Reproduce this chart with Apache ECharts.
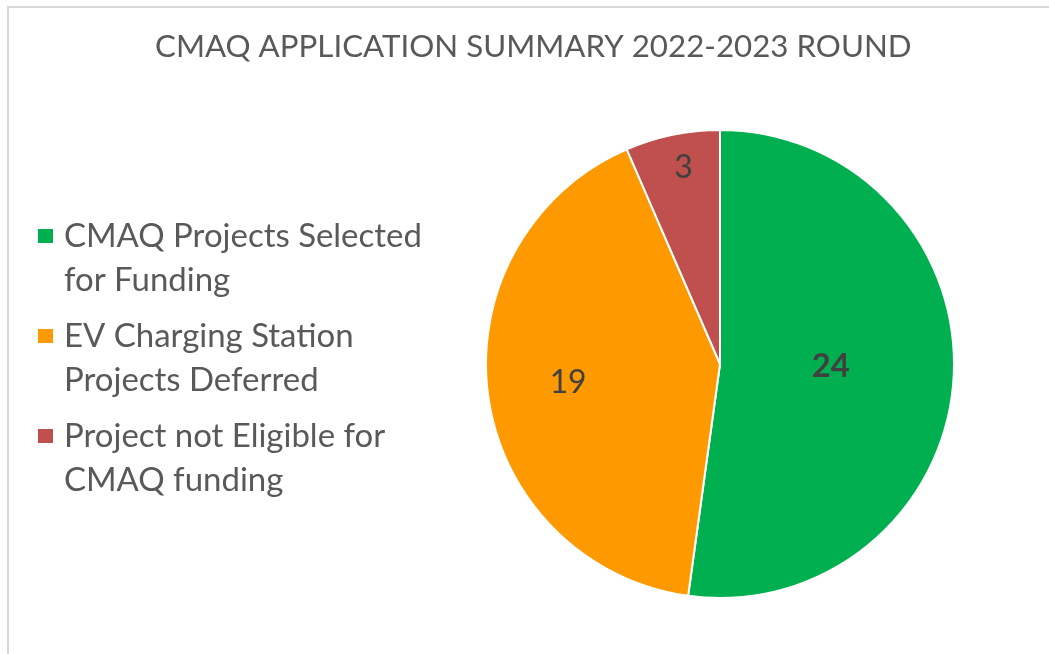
<!DOCTYPE html>
<html>
<head>
<meta charset="utf-8">
<script src="https://cdn.jsdelivr.net/npm/echarts@6/dist/echarts.min.js"></script>
<style>
  html, body { margin: 0; padding: 0; background: #fff; }
  #chart { width: 1049px; height: 654px; }
</style>
</head>
<body>
<div id="chart"></div>
<script>
// ---- data ----
const chartTitle = 'CMAQ APPLICATION SUMMARY 2022-2023 ROUND';
const categories = [
  'CMAQ Projects Selected for Funding',
  'EV Charging Station Projects Deferred',
  'Project not Eligible for CMAQ funding'
];
const values = [24, 19, 3];
const colors = ['#00B050', '#FF9900', '#C0504D'];

// ---- styling helpers ----
const FONT = 'Lato';
const mctx = document.createElement('canvas').getContext('2d');
function fitSize(text, weight, target) {
  mctx.font = weight + ' 100px ' + FONT;
  return 100 * target / mctx.measureText(text).width;
}
const titleSize = fitSize(chartTitle, 'normal', 757);
const legendSize = fitSize('CMAQ Projects Selected', 'normal', 358);
const labelSize = fitSize('19', 'normal', 37);
const boldLabelSize = fitSize('24', 'bold', 38);
// label nudges from the default inside position (style only)
const labelShift = [[-9, -6], [-33, 2], [-12, -79]];

const chart = echarts.init(document.getElementById('chart'), null, { renderer: 'canvas' });
chart.setOption({
  animation: false,
  backgroundColor: '#ffffff',
  title: {
    text: chartTitle,
    left: 155,
    top: 31,
    padding: 0,
    textStyle: { fontFamily: FONT, fontSize: titleSize, fontWeight: 'normal', color: '#595959' }
  },
  graphic: [{
    type: 'rect',
    shape: { x: 8, y: 7, width: 2000, height: 2000 },
    style: { fill: 'none', stroke: '#d9d9d9', lineWidth: 2 },
    silent: true
  }],
  legend: {
    orient: 'vertical',
    left: 36,
    top: 170,
    padding: 0,
    itemGap: -32,
    itemWidth: 17,
    itemHeight: 16,
    icon: 'rect',
    data: categories,
    // leading empty line keeps the marker level with the first text line
    formatter: function (name) { return '\n' + name; },
    textStyle: {
      fontFamily: FONT,
      fontSize: legendSize,
      color: '#595959',
      lineHeight: 44,
      width: 380,
      overflow: 'break',
      padding: [0, 0, 0, 5]
    }
  },
  series: [{
    type: 'pie',
    center: [720, 364],
    radius: 234,
    startAngle: 90,
    clockwise: true,
    avoidLabelOverlap: false,
    itemStyle: { borderColor: '#ffffff', borderWidth: 2 },
    label: {
      show: true,
      position: 'inside',
      formatter: '{c}',
      fontFamily: FONT,
      fontSize: labelSize,
      color: '#404040'
    },
    labelLine: { show: false },
    labelLayout: function (p) {
      return { dx: labelShift[p.dataIndex][0], dy: labelShift[p.dataIndex][1] };
    },
    emphasis: { disabled: true },
    data: categories.map((name, i) => ({
      name: name,
      value: values[i],
      itemStyle: { color: colors[i] },
      label: i === 0 ? { fontWeight: 'bold', fontSize: boldLabelSize } : {}
    }))
  }]
});
</script>
</body>
</html>
